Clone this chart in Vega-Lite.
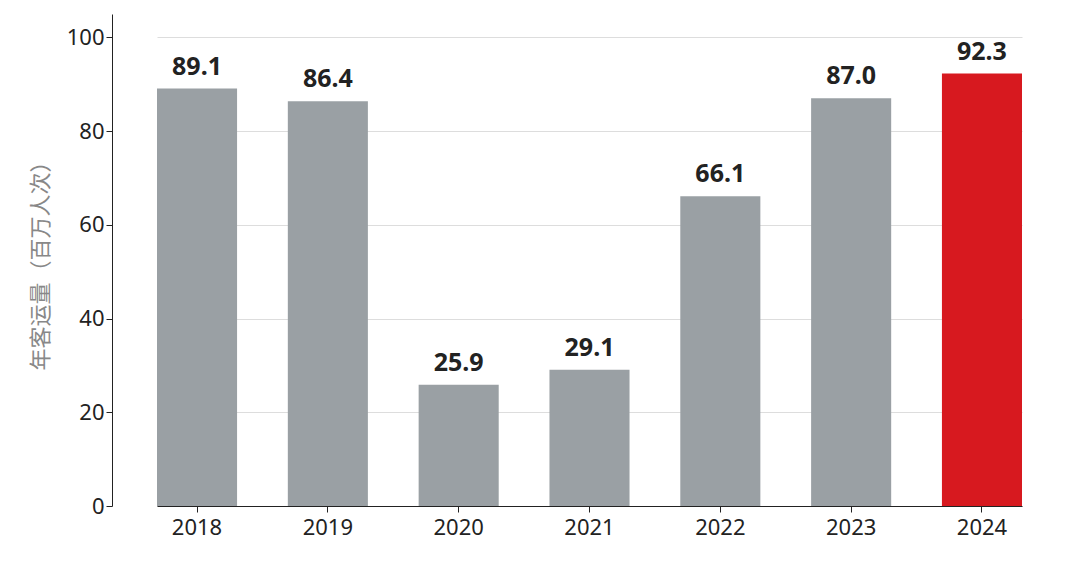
{
"$schema":"https://vega.github.io/schema/vega-lite/v6.json",
"width":928,"height":492,
"autosize":{"type":"none"},
"padding":{"left":112,"top":14,"right":40,"bottom":56},
"background":"white",
"config":{"view":{"stroke":null},"font":"Noto Sans, Noto Sans CJK SC"},
"data":{"values":[
{"year":"2018","v":89.1,"hl":"n"},
{"year":"2019","v":86.4,"hl":"n"},
{"year":"2020","v":25.9,"hl":"n"},
{"year":"2021","v":29.1,"hl":"n"},
{"year":"2022","v":66.1,"hl":"n"},
{"year":"2023","v":87.0,"hl":"n"},
{"year":"2024","v":92.3,"hl":"y"}
]},
"encoding":{
"x":{"field":"year","type":"nominal","scale":{"paddingInner":0.388,"paddingOuter":0,"range":[45,910]},"axis":{"title":null,"labelAngle":0,"labelFontSize":22,"labelColor":"#222","domainColor":"#222","tickColor":"#222","tickSize":6,"labelPadding":5}},
"y":{"field":"v","type":"quantitative","scale":{"domain":[0,105],"nice":false},"axis":{"values":[0,20,40,60,80,100],"title":"年客运量（百万人次）","titleFont":"Noto Sans CJK SC","titleFontSize":22,"titleColor":"#888","titleFontWeight":"normal","titlePadding":14,"labelFontSize":22,"labelColor":"#222","domainColor":"#222","tickColor":"#222","tickSize":6,"gridColor":"#ddd"}}
},
"layer":[
{"mark":{"type":"bar"},"encoding":{"color":{"field":"hl","type":"nominal","scale":{"domain":["n","y"],"range":["#9aa0a4","#d7191f"]},"legend":null}}},
{"mark":{"type":"text","dy":-22,"fontSize":25,"fontWeight":"bold","color":"#222"},"encoding":{"text":{"field":"v","type":"quantitative","format":".1f"}}}
]
}
